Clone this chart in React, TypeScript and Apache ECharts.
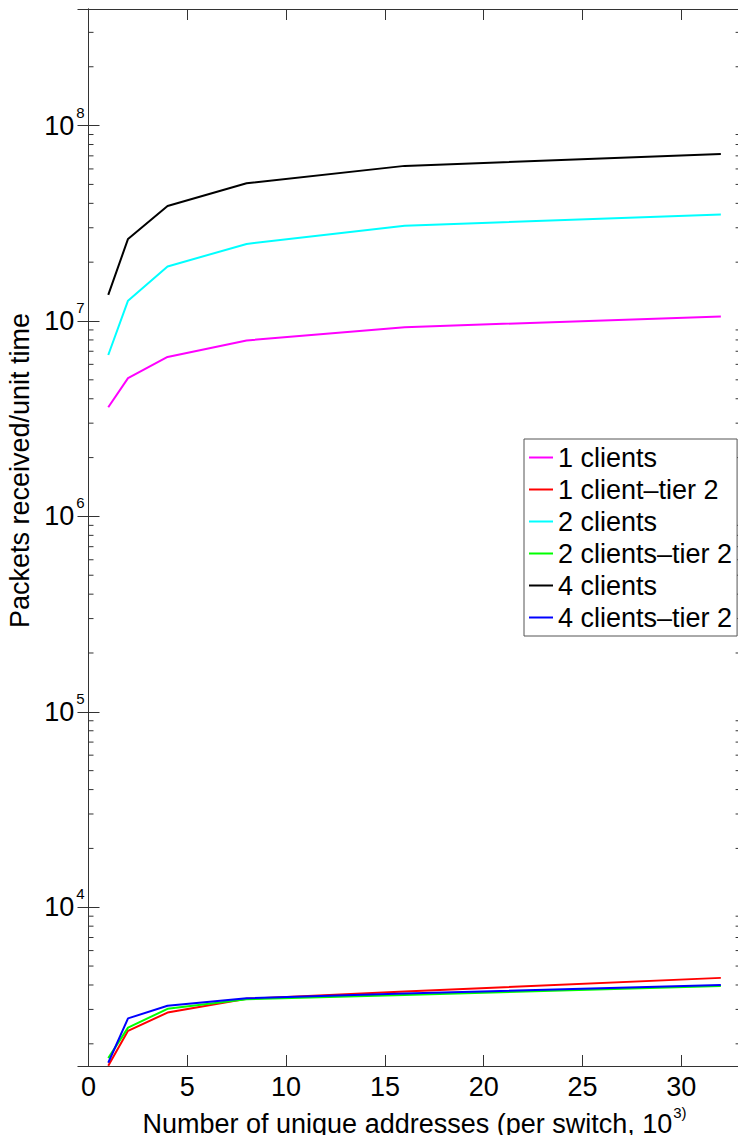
import React, { useEffect, useRef } from 'react';
import * as echarts from 'echarts';

// x: number of unique addresses (per switch, 10^3)
const xValues = [1, 2, 4, 8, 16, 32];
// packets received / unit time
const oneClients = [3.62e6, 5.1e6, 6.55e6, 7.95e6, 9.3e6, 1.055e7];
const oneClientTier2 = [1545, 2330, 2890, 3400, 3700, 4350];
const twoClients = [6.7e6, 1.27e7, 1.9e7, 2.48e7, 3.07e7, 3.51e7];
const twoClientsTier2 = [1690, 2420, 3020, 3380, 3560, 3950];
const fourClients = [1.36e7, 2.63e7, 3.88e7, 5.07e7, 6.22e7, 7.16e7];
const fourClientsTier2 = [1600, 2700, 3130, 3420, 3620, 4000];

const seriesNames = ['1 clients', '1 client–tier 2', '2 clients', '2 clients–tier 2', '4 clients', '4 clients–tier 2'];
const seriesValues = [oneClients, oneClientTier2, twoClients, twoClientsTier2, fourClients, fourClientsTier2];
const seriesColors = ['#ff00ff', '#ff0000', '#00ffff', '#00ff00', '#000000', '#0000ff'];

const xTickInterval = 5;
const X_MIN = 0;
const X_MAX = 33;
const Y_MIN = 1540;
const Y_MAX = 3.95e8;
const minorMultipliers = [2, 3, 4, 5, 6, 7, 8, 9];
const decades = [3, 4, 5, 6, 7, 8];

const FONT = "'Liberation Sans', Arial, Helvetica, sans-serif";
const AXIS_COLOR = '#333333';

export default function App() {
  const ref = useRef<HTMLDivElement>(null);

  useEffect(() => {
    document.body.style.margin = '0';
    const chart = echarts.init(ref.current!, null, { renderer: 'svg' });

    const yLabel = (v: number) => {
      const e = Math.log10(v);
      const r = Math.round(e);
      if (Math.abs(e - r) > 1e-6) return '';
      return `{b|10}{s|${r}}`;
    };

    const axisLine = { show: true, lineStyle: { color: AXIS_COLOR, width: 1 } };
    const tick = { show: true, inside: true, length: 11, lineStyle: { color: AXIS_COLOR, width: 1 } };

    chart.setOption({
      animation: false,
      backgroundColor: '#ffffff',
      grid: { left: 88.5, right: -2.6, top: 9, bottom: 69, containLabel: false, outerBoundsMode: 'none' },
      legend: {
        orient: 'vertical',
        left: 524,
        top: 439,
        padding: [5, 5, 5, 5],
        itemGap: 5,
        itemWidth: 24,
        itemHeight: 2,
        icon: 'rect',
        borderColor: '#555555',
        borderWidth: 1,
        backgroundColor: '#ffffff',
        textStyle: { fontSize: 27, lineHeight: 27, fontFamily: FONT, color: '#000000' },
        data: seriesNames,
      },
      xAxis: [
        {
          type: 'value',
          min: X_MIN,
          max: X_MAX,
          interval: xTickInterval,
          position: 'bottom',
          axisLine,
          axisTick: tick,
          splitLine: { show: false },
          axisLabel: {
            fontSize: 27,
            fontFamily: FONT,
            color: '#000000',
            margin: 7,
            showMaxLabel: false,
          },
          name: '{m|Number of unique addresses (per switch, 10}{s|3)}',
          nameLocation: 'middle',
          nameGap: 32,
          nameTextStyle: {
            fontSize: 27,
            fontFamily: FONT,
            color: '#000000',
            rich: {
              m: { fontSize: 27, fontFamily: FONT, color: '#000000', lineHeight: 33, verticalAlign: 'bottom' },
              s: { fontSize: 15, fontFamily: FONT, color: '#000000', verticalAlign: 'top', padding: [0, 0, 0, 1] },
            },
          },
        },
        {
          type: 'value',
          min: X_MIN,
          max: X_MAX,
          interval: xTickInterval,
          position: 'top',
          axisLine,
          axisTick: tick,
          splitLine: { show: false },
          axisLabel: { show: false },
        },
      ],
      yAxis: [
        {
          type: 'log',
          logBase: 10,
          min: Y_MIN,
          max: Y_MAX,
          position: 'left',
          axisLine,
          axisTick: tick,
          splitLine: { show: false },
          minorTick: { show: false },
          axisLabel: {
            formatter: yLabel,
            margin: 4,
            showMinLabel: false,
            showMaxLabel: false,
            rich: {
              b: { fontSize: 27, fontFamily: FONT, color: '#000000', lineHeight: 42 },
              s: { fontSize: 15, fontFamily: FONT, color: '#000000', verticalAlign: 'top', padding: [0, 0, 0, 2] },
            },
          },
          name: 'Packets received/unit time',
          nameLocation: 'middle',
          nameGap: 51,
          nameTextStyle: { fontSize: 27, fontFamily: FONT, color: '#000000', padding: [0, 0, 0, 134] },
        },
        {
          type: 'log',
          logBase: 10,
          min: Y_MIN,
          max: Y_MAX,
          position: 'right',
          axisLine,
          axisTick: tick,
          splitLine: { show: false },
          axisLabel: { show: false },
        },
      ],
      series: seriesNames.map((name, i) => ({
        name,
        type: 'line',
        xAxisIndex: 0,
        yAxisIndex: 0,
        showSymbol: false,
        symbol: 'none',
        clip: true,
        color: seriesColors[i],
        itemStyle: { color: seriesColors[i] },
        lineStyle: { color: seriesColors[i], width: 2 },
        data: xValues.map((x, j) => [x, seriesValues[i][j]]),
      })),
    });

    // minor log ticks (2..9 x 10^k) on left and right axes
    const leftX = chart.convertToPixel({ xAxisIndex: 0 }, X_MIN) as number;
    const rightX = chart.convertToPixel({ xAxisIndex: 0 }, X_MAX) as number;
    const graphics: any[] = [];
    decades.forEach((k) => {
      minorMultipliers.forEach((m) => {
        const v = m * Math.pow(10, k);
        if (v <= Y_MIN || v >= Y_MAX) return;
        const y = chart.convertToPixel({ yAxisIndex: 0 }, v) as number;
        graphics.push({
          type: 'line',
          silent: true,
          shape: { x1: leftX, y1: y, x2: leftX + 5, y2: y },
          style: { stroke: AXIS_COLOR, lineWidth: 1 },
        });
        graphics.push({
          type: 'line',
          silent: true,
          shape: { x1: rightX - 5, y1: y, x2: rightX, y2: y },
          style: { stroke: AXIS_COLOR, lineWidth: 1 },
        });
      });
    });
    chart.setOption({ graphic: graphics });

    return () => {
      chart.dispose();
    };
  }, []);

  return <div ref={ref} style={{ width: 738, height: 1135 }} />;
}
